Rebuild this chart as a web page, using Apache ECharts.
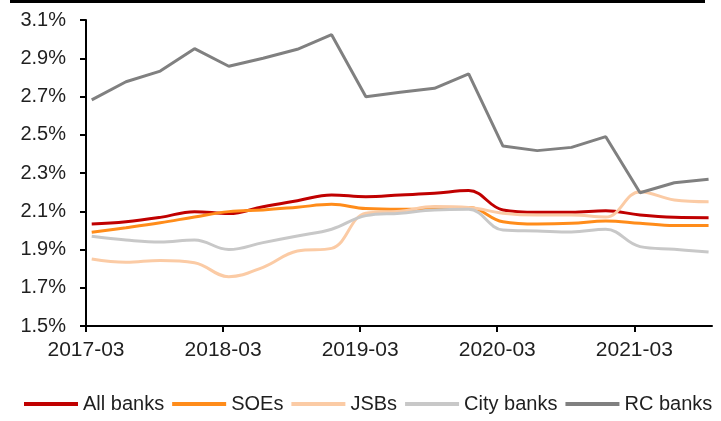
<!DOCTYPE html>
<html>
<head>
<meta charset="utf-8">
<script src="https://cdn.jsdelivr.net/npm/echarts@6/dist/echarts.min.js"></script>
<style>
  html, body { margin: 0; padding: 0; background: #fff; }
  #chart { width: 721px; height: 421px; }
</style>
</head>
<body>
<div id="chart"></div>
<script>
// Quarter-end observations, loan yield (%) by bank type
const quarters = [
  "2017-03", "2017-06", "2017-09", "2017-12",
  "2018-03", "2018-06", "2018-09", "2018-12",
  "2019-03", "2019-06", "2019-09", "2019-12",
  "2020-03", "2020-06", "2020-09", "2020-12",
  "2021-03", "2021-06", "2021-09"
];
const allBanks = [2.033, 2.045, 2.068, 2.098, 2.088, 2.124, 2.155, 2.185, 2.176, 2.185, 2.194, 2.208, 2.107, 2.095, 2.095, 2.103, 2.080, 2.068, 2.066];
const soes     = [1.990, 2.014, 2.040, 2.070, 2.098, 2.107, 2.121, 2.136, 2.114, 2.110, 2.110, 2.120, 2.045, 2.033, 2.037, 2.049, 2.037, 2.025, 2.026];
const jsbs     = [1.850, 1.833, 1.843, 1.831, 1.758, 1.807, 1.892, 1.906, 2.090, 2.100, 2.125, 2.120, 2.090, 2.080, 2.080, 2.070, 2.202, 2.159, 2.150];
const cityBanks= [1.969, 1.950, 1.939, 1.950, 1.900, 1.936, 1.971, 2.006, 2.077, 2.090, 2.107, 2.110, 2.002, 1.997, 1.992, 2.006, 1.915, 1.901, 1.887];
const rcBanks  = [2.682, 2.777, 2.833, 2.950, 2.858, 2.900, 2.947, 3.023, 2.699, 2.722, 2.743, 2.818, 2.441, 2.417, 2.434, 2.490, 2.197, 2.249, 2.267];

const xTickLabels = ["2017-03", "2018-03", "2019-03", "2020-03", "2021-03"];
const yTickLabels = [1.5, 1.7, 1.9, 2.1, 2.3, 2.5, 2.7, 2.9, 3.1];

// Months elapsed since 2017-03
function monthIndex(label) {
  const [y, m] = label.split("-").map(Number);
  return (y - 2017) * 12 + (m - 3);
}
// Each observation sits in the middle of its month on the date axis
const MID_MONTH = 0.5;
function toPairs(values) {
  return values.map((v, i) => [monthIndex(quarters[i]) + MID_MONTH, v]);
}

const FONT = 'Arial, "Liberation Sans", sans-serif';
const TEXT = '#1f1f1f';

const seriesDefs = [
  { name: "All banks",  data: allBanks,  color: "#C00000", smooth: true },
  { name: "SOEs",       data: soes,      color: "#FF8C1A", smooth: true },
  { name: "JSBs",       data: jsbs,      color: "#FBCBA5", smooth: true },
  { name: "City banks", data: cityBanks, color: "#C8C8C8", smooth: true },
  { name: "RC banks",   data: rcBanks,   color: "#808080", smooth: false }
];

const chart = echarts.init(document.getElementById('chart'), null, { renderer: 'canvas' });
chart.setOption({
  animation: false,
  backgroundColor: '#fff',
  graphic: [{
    type: 'rect',
    shape: { x: 10, y: 0, width: 695, height: 3 },
    style: { fill: '#000' }
  }],
  grid: { left: 86, right: 9, top: 20, bottom: 95 },
  legend: {
    left: 24,
    top: 394,
    width: 710,
    padding: 0,
    icon: 'rect',
    itemWidth: 54,
    itemHeight: 4,
    itemGap: 8,
    textStyle: { fontFamily: FONT, fontSize: 20, color: TEXT },
    data: seriesDefs.map(s => s.name)
  },
  xAxis: {
    type: 'value',
    min: 0,
    max: 54.8,
    splitLine: { show: false },
    axisLine: { show: true, onZero: false, lineStyle: { color: '#000', width: 2 } },
    axisTick: {
      show: true, length: 6, inside: false,
      lineStyle: { color: '#000', width: 2 },
      customValues: xTickLabels.map(monthIndex)
    },
    axisLabel: {
      margin: 14,
      fontFamily: FONT, fontSize: 21, color: TEXT,
      customValues: xTickLabels.map(monthIndex),
      formatter: v => xTickLabels.find(l => monthIndex(l) === Math.round(v)) || ''
    }
  },
  yAxis: {
    type: 'value',
    min: 1.5,
    max: 3.1,
    splitLine: { show: false },
    axisLine: { show: true, lineStyle: { color: '#000', width: 2 } },
    axisTick: {
      show: true, length: 6, inside: false,
      lineStyle: { color: '#000', width: 2 },
      customValues: yTickLabels
    },
    axisLabel: {
      margin: 20,
      fontFamily: FONT, fontSize: 20, color: TEXT,
      customValues: yTickLabels,
      formatter: v => v.toFixed(1) + '%'
    }
  },
  series: seriesDefs.map(s => ({
    name: s.name,
    type: 'line',
    data: toPairs(s.data),
    smooth: s.smooth ? 0.4 : false,
    symbol: 'none',
    color: s.color,
    lineStyle: { color: s.color, width: 3 }
  }))
});
</script>
</body>
</html>
